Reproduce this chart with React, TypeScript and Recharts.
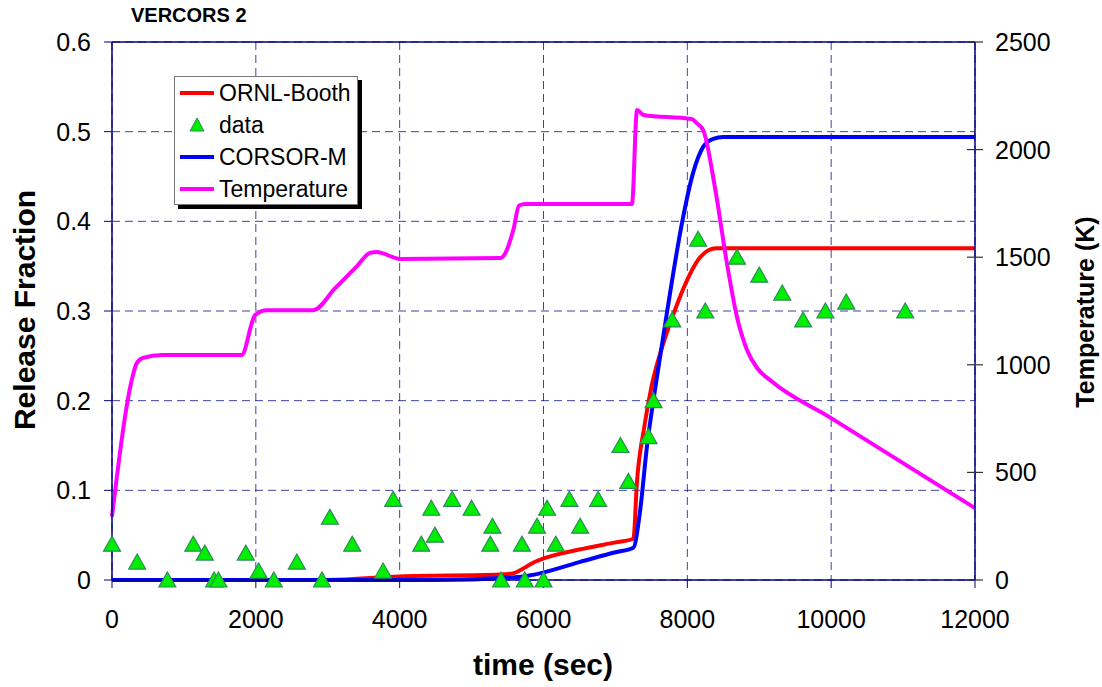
import { ComposedChart, Line, Scatter, XAxis, YAxis, CartesianGrid, ReferenceLine, Legend } from 'recharts'

const FONT = '"Liberation Sans", Arial, sans-serif'
const NAVY = '#000080'

const timeTicks = [0, 2000, 4000, 6000, 8000, 10000, 12000]
const fractionTicks = [0, 0.1, 0.2, 0.3, 0.4, 0.5, 0.6]
const tempTicks = [0, 500, 1000, 1500, 2000, 2500]

// [time (s), release fraction]
const ornlBooth = [
  [0, 0], [3000, 0], [4000, 0.004], [5400, 0.006], [5600, 0.008], [5700, 0.012],
  [5850, 0.019], [6000, 0.024], [6500, 0.034], [7000, 0.042], [7250, 0.046],
  [7300, 0.11], [7400, 0.17], [7500, 0.215], [7650, 0.26], [7800, 0.295],
  [8000, 0.335], [8150, 0.357], [8300, 0.368], [8400, 0.37], [12000, 0.37],
]

const corsorM = [
  [0, 0], [4500, 0], [5600, 0.003], [5800, 0.005], [6500, 0.02], [7000, 0.031],
  [7250, 0.036], [7340, 0.075], [7440, 0.15], [7550, 0.212], [7720, 0.3],
  [7930, 0.4], [8080, 0.454], [8220, 0.483], [8360, 0.492], [8500, 0.494], [12000, 0.494],
]

const measured = [
  [0, 0.04], [350, 0.02], [770, 0], [1130, 0.04], [1290, 0.03], [1420, 0], [1480, 0],
  [1860, 0.03], [2040, 0.01], [2250, 0], [2570, 0.02], [2920, 0], [3030, 0.07],
  [3340, 0.04], [3770, 0.01], [3910, 0.09], [4300, 0.04], [4440, 0.08], [4490, 0.05],
  [4730, 0.09], [5000, 0.08], [5290, 0.06], [5260, 0.04], [5410, 0], [5700, 0.04],
  [5740, 0], [5910, 0.06], [6000, 0], [6050, 0.08], [6170, 0.04], [6360, 0.09],
  [6510, 0.06], [6760, 0.09], [7070, 0.15], [7180, 0.11], [7460, 0.16], [7530, 0.2],
  [7790, 0.29], [8150, 0.38], [8250, 0.3], [8690, 0.36], [9000, 0.34], [9320, 0.32],
  [9610, 0.29], [9920, 0.3], [10210, 0.31], [11030, 0.3],
]

// [time (s), temperature (K)]
const temperature = [
  [0, 295], [290, 950], [340, 1005], [430, 1032], [700, 1045], [1800, 1045],
  [1990, 1231], [2150, 1254], [2800, 1254], [3100, 1355], [3400, 1456], [3590, 1520],
  [3680, 1524], [4010, 1492], [5400, 1496], [5580, 1626], [5660, 1740], [5750, 1747],
  [7230, 1747], [7300, 2184], [7390, 2161], [8060, 2142], [8130, 2123], [8220, 2091],
  [8390, 1812], [8550, 1473], [8690, 1222], [8830, 1069], [8970, 985], [9150, 929],
  [10000, 752], [11000, 543], [12000, 334],
]

const legendItems = [
  { name: 'ORNL-Booth', color: '#ff0000', marker: false },
  { name: 'data', color: '#00ee00', marker: true },
  { name: 'CORSOR-M', color: '#0000ff', marker: false },
  { name: 'Temperature', color: '#ff00ff', marker: false },
]

const toPoints = (rows: number[][]) => rows.map(([t, v]) => ({ t, v }))

function Triangle(props: any) {
  const { cx, cy } = props
  if (cx == null || cy == null) return null
  return (
    <polygon
      points={`${cx},${cy - 8} ${cx + 8.5},${cy + 7} ${cx - 8.5},${cy + 7}`}
      fill="#00ee00"
      stroke="#2e8b57"
      strokeWidth={1.2}
    />
  )
}

// right axis ticks cross the axis line, Excel style
function RightTick(props: any) {
  const { x, y, payload } = props
  return (
    <g>
      <line x1={x - 28} x2={x - 12} y1={y} y2={y} stroke="#333" strokeWidth={1.2} />
      <text x={x} y={y} dy="0.36em" textAnchor="start" fontSize={25} fontFamily={FONT} fill="#000">
        {payload.value}
      </text>
    </g>
  )
}

function ChartLegend() {
  return (
    <div
      style={{
        width: 184,
        height: 129,
        border: '1px solid #777',
        background: '#fff',
        boxShadow: '4px 4px 0 #000',
        fontFamily: FONT,
        fontSize: 23,
        boxSizing: 'border-box',
      }}
    >
      {legendItems.map((it) => (
        <div key={it.name} style={{ height: 32, display: 'flex', alignItems: 'center' }}>
          <svg width={44} height={20} style={{ flex: 'none' }}>
            {it.marker ? (
              <polygon points="22,3 29,16 15,16" fill={it.color} stroke="#2e8b57" strokeWidth={1} />
            ) : (
              <line x1={5} x2={39} y1={10} y2={10} stroke={it.color} strokeWidth={4} />
            )}
          </svg>
          <span style={{ color: '#000', lineHeight: 1 }}>{it.name}</span>
        </div>
      ))}
    </div>
  )
}

const titleStyle: React.CSSProperties = {
  position: 'absolute',
  fontFamily: FONT,
  fontWeight: 'bold',
  color: '#000',
  whiteSpace: 'nowrap',
}

export default function App() {
  return (
    <div style={{ position: 'absolute', left: 0, top: 0, width: 1102, height: 687, background: '#fff' }}>
      <ComposedChart width={1102} height={687} margin={{ top: 42, right: 0, bottom: 0, left: 0 }}>
        <CartesianGrid
          yAxisId="left"
          stroke={NAVY}
          strokeOpacity={0.75}
          strokeDasharray="8 5"
        />
        <XAxis
          dataKey="t"
          type="number"
          domain={[0, 12000]}
          ticks={timeTicks}
          allowDuplicatedCategory={false}
          height={107}
          tickSize={8}
          tickMargin={22}
          axisLine={{ stroke: NAVY, strokeWidth: 1.5 }}
          tickLine={{ stroke: NAVY }}
          tick={{ fontSize: 25, fontFamily: FONT, fill: '#000' }}
        />
        <YAxis
          yAxisId="left"
          type="number"
          domain={[0, 0.6]}
          ticks={fractionTicks}
          width={112}
          tickSize={8}
          tickMargin={13}
          axisLine={{ stroke: NAVY, strokeWidth: 1.5 }}
          tickLine={{ stroke: NAVY }}
          tick={{ fontSize: 25, fontFamily: FONT, fill: '#000' }}
        />
        <YAxis
          yAxisId="right"
          orientation="right"
          type="number"
          domain={[0, 2500]}
          ticks={tempTicks}
          width={127}
          tickSize={8}
          tickMargin={12}
          axisLine={{ stroke: NAVY, strokeWidth: 1.5 }}
          tickLine={false}
          tick={<RightTick />}
        />
        <ReferenceLine yAxisId="left" y={0.6} stroke={NAVY} strokeWidth={1.5} />
        <Line
          data={toPoints(ornlBooth)}
          dataKey="v"
          yAxisId="left"
          type="monotone"
          stroke="#ff0000"
          strokeWidth={4}
          dot={false}
          isAnimationActive={false}
        />
        <Line
          data={toPoints(corsorM)}
          dataKey="v"
          yAxisId="left"
          type="monotone"
          stroke="#0000ff"
          strokeWidth={4}
          dot={false}
          isAnimationActive={false}
        />
        <Line
          data={toPoints(temperature)}
          dataKey="v"
          yAxisId="right"
          type="monotone"
          stroke="#ff00ff"
          strokeWidth={4}
          dot={false}
          isAnimationActive={false}
        />
        <Scatter
          data={toPoints(measured)}
          dataKey="v"
          yAxisId="left"
          shape={<Triangle />}
          isAnimationActive={false}
        />
        <Legend
          layout="vertical"
          align="center"
          verticalAlign="middle"
          content={() => <ChartLegend />}
          wrapperStyle={{ left: 174, top: 76, width: 'auto', bottom: 'auto', right: 'auto' }}
        />
      </ComposedChart>
      <div style={{ ...titleStyle, left: 131, top: 4, fontSize: 20 }}>VERCORS 2</div>
      <div
        style={{
          ...titleStyle,
          left: 25,
          top: 310,
          fontSize: 30,
          transform: 'translate(-50%, -50%) rotate(-90deg)',
        }}
      >
        Release Fraction
      </div>
      <div
        style={{
          ...titleStyle,
          left: 1085,
          top: 312,
          fontSize: 25,
          transform: 'translate(-50%, -50%) rotate(-90deg)',
        }}
      >
        Temperature (K)
      </div>
      <div style={{ ...titleStyle, left: 543, top: 665, fontSize: 30, transform: 'translate(-50%, -50%)' }}>
        time (sec)
      </div>
    </div>
  )
}
